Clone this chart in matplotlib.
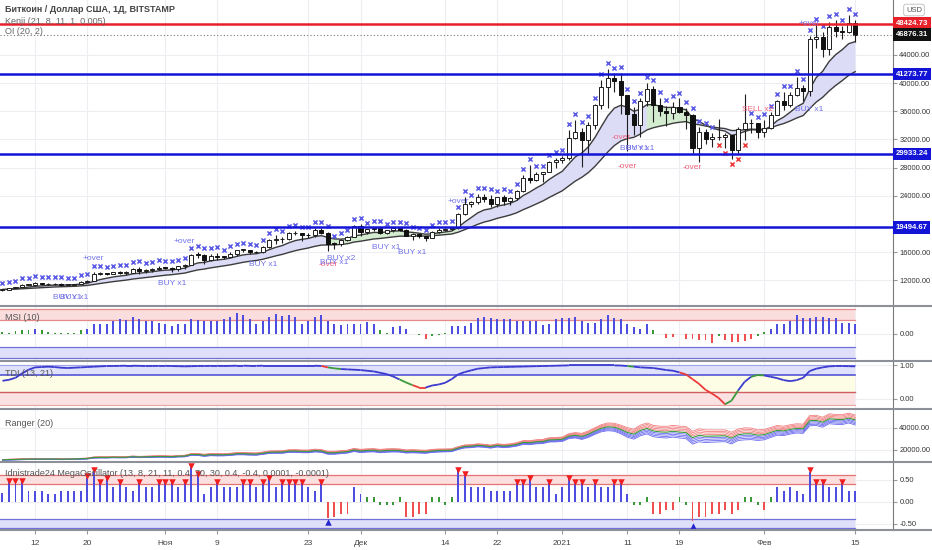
import numpy as np
import pandas as pd
import matplotlib
matplotlib.use("Agg")
import matplotlib.pyplot as plt
from matplotlib.lines import Line2D
from matplotlib.collections import LineCollection
from matplotlib.transforms import blended_transform_factory

plt.rcParams['font.family'] = ['Liberation Sans', 'DejaVu Sans']

# ---- data (BTC/USD Bitstamp, daily) ----
dates = pd.date_range('2020-10-07', '2021-02-15', freq='D')

close = [10670, 10925, 11060, 11300, 11375, 11540, 11425,
         11430, 11500, 11320, 11370, 11500, 11750, 11910,
         12820, 12970, 12930, 13120, 13030, 13070, 13640,
         13280, 13460, 13560, 13800, 13760, 13550, 14020,
         14150, 15590, 15580, 14830, 15480, 15330, 15300,
         15700, 16280, 16320, 16070, 15960, 16720, 17650,
         17800, 17820, 18680, 18720, 18420, 18370, 19160,
         18740, 17150, 17140, 17720, 18180, 19700, 18790,
         19220, 19450, 18700, 19150, 19360, 19170, 18320,
         18550, 18250, 18040, 18800, 19170, 19270, 19440,
         21380, 22840, 23140, 23870, 23480, 22750, 23830,
         23250, 23730, 24710, 26490, 26280, 27080, 27360,
         28840, 29000, 29400, 32200, 33000, 31970, 33990,
         36820, 39370, 40670, 40240, 38240, 35540, 34010,
         37390, 39150, 36830, 36070, 35800, 36630, 35890,
         35470, 30830, 33000, 32100, 32280, 32370, 32570,
         30430, 33470, 34300, 34300, 33110, 33540, 35510,
         37470, 36940, 38290, 39260, 38900, 46200, 46480,
         44840, 47970, 47400, 47190, 48580, 46876.31]

high = [10690, 10960, 11100, 11490, 11440, 11730, 11560,
        11550, 11620, 11540, 11400, 11520, 11820, 12020,
        13220, 13180, 13020, 13160, 13350, 13240, 13790,
        13860, 13620, 13680, 14080, 13900, 13820, 14070,
        14260, 15750, 15970, 15770, 15650, 15840, 15460,
        15960, 16340, 16480, 16320, 16170, 16880, 17850,
        18480, 18150, 18800, 18970, 18700, 18750, 19390,
        19480, 18910, 17450, 17880, 18330, 19860, 19920,
        19300, 19580, 19520, 19180, 19420, 19400, 19280,
        18640, 18580, 18270, 18940, 19410, 19350, 19560,
        21560, 23800, 23280, 24200, 24300, 24100, 23850,
        24120, 23800, 24790, 26870, 28390, 27400, 27390,
        28990, 29300, 29600, 33300, 34800, 33650, 34500,
        36950, 40400, 41950, 41350, 41400, 38300, 36600,
        37800, 40050, 39600, 37900, 36800, 37300, 37800,
        36400, 35600, 33800, 33500, 32900, 34900, 32900,
        32600, 33800, 38500, 34900, 34300, 34700, 35950,
        37650, 38700, 38700, 40900, 39650, 46700, 48200,
        47300, 48600, 48900, 48100, 49700, 49000]

low = [10530, 10560, 10830, 11050, 11280, 11200, 11300,
       11280, 11280, 11220, 11290, 11340, 11420, 11690,
       11900, 12690, 12720, 12900, 12900, 12790, 13060,
       12920, 12980, 13130, 13420, 13620, 13220, 13300,
       13530, 14090, 15200, 14350, 14720, 14810, 15070,
       15270, 15430, 15960, 15720, 15810, 15880, 16560,
       17200, 17330, 17750, 18350, 17620, 18000, 18070,
       18600, 16200, 16450, 16880, 17530, 18170, 18330,
       18500, 18940, 18580, 18520, 18870, 18920, 18220,
       17650, 17920, 17570, 18020, 18720, 19000, 19060,
       19290, 21230, 22350, 22760, 23100, 22350, 22400,
       22700, 22700, 23450, 24500, 25800, 26100, 25880,
       27330, 28000, 28700, 29000, 32000, 28130, 29900,
       33400, 36300, 36500, 38700, 35650, 30400, 32600,
       32400, 36700, 34400, 35350, 33850, 34850, 35700,
       33400, 30000, 28850, 31400, 30900, 31900, 30800,
       29250, 29850, 31900, 32900, 32200, 32300, 33400,
       35400, 36200, 36600, 38200, 37400, 38100, 45000,
       43750, 44000, 46500, 46300, 47100, 45800]

first_open = 10590

msi = [0.07, 0.01, 0.11, 0.14, 0.16, 0.20, 0.16,
       0.07, 0.03, 0.03, 0.03, 0.04, 0.14, 0.20,
       0.38, 0.38, 0.38, 0.51, 0.61, 0.58, 0.70,
       0.61, 0.51, 0.51, 0.45, 0.41, 0.31, 0.38,
       0.38, 0.61, 0.58, 0.54, 0.51, 0.51, 0.61,
       0.68, 0.85, 0.77, 0.61, 0.41, 0.51, 0.68,
       0.81, 0.72, 0.77, 0.68, 0.41, 0.51, 0.70,
       0.77, 0.51, 0.41, 0.34, 0.38, 0.41, 0.41,
       0.47, 0.41, 0.14, 0.04, 0.27, 0.31, 0.20,
       0.00, -0.04, -0.20, -0.11, -0.07, 0.04, 0.30,
       0.30, 0.30, 0.43, 0.65, 0.70, 0.64, 0.61,
       0.61, 0.61, 0.51, 0.51, 0.51, 0.51, 0.34,
       0.38, 0.61, 0.65, 0.65, 0.70, 0.51, 0.43,
       0.43, 0.61, 0.78, 0.65, 0.61, 0.38, 0.27,
       0.20, 0.38, 0.16, 0.00, -0.16, -0.14, -0.03,
       -0.20, -0.20, -0.24, -0.27, -0.38, -0.11, -0.27,
       -0.34, -0.34, -0.30, -0.20, -0.11, 0.07, 0.20,
       0.38, 0.38, 0.51, 0.78, 0.65, 0.65, 0.70,
       0.70, 0.65, 0.65, 0.43, 0.43, 0.38]

tdi = [0.53, 0.56, 0.62, 0.75, 0.86, 0.93, 0.94,
       0.95, 0.94, 0.92, 0.91, 0.92, 0.93, 0.94,
       0.95, 0.96, 0.97, 0.97, 0.975, 0.98, 0.98,
       0.975, 0.97, 0.97, 0.975, 0.975, 0.97, 0.965,
       0.96, 0.965, 0.97, 0.97, 0.975, 0.975, 0.97,
       0.975, 0.98, 0.98, 0.975, 0.975, 0.98, 0.98,
       0.98, 0.98, 0.98, 0.98, 0.98, 0.98, 0.98,
       0.97, 0.93, 0.90, 0.88, 0.87, 0.86, 0.85,
       0.83, 0.81, 0.77, 0.73, 0.66, 0.57, 0.48,
       0.40, 0.33, 0.33, 0.39, 0.42, 0.47, 0.58,
       0.72, 0.79, 0.84, 0.89, 0.91, 0.93, 0.935,
       0.94, 0.945, 0.95, 0.955, 0.96, 0.965, 0.97,
       0.975, 0.98, 0.985, 0.99, 0.99, 0.99, 0.99,
       0.99, 0.99, 0.99, 0.99, 0.985, 0.97, 0.95,
       0.93, 0.92, 0.91, 0.88, 0.85, 0.83, 0.78,
       0.72, 0.58, 0.44, 0.26, 0.15, 0.02, -0.17,
       -0.06, 0.24, 0.50, 0.65, 0.70, 0.69, 0.65,
       0.61, 0.55, 0.52, 0.55, 0.62, 0.82, 0.89,
       0.93, 0.96, 0.97, 0.97, 0.965, 0.96]

mega = [0.19, 0.45, 0.45, 0.45, 0.25, 0.25, 0.25,
        0.17, 0.17, 0.25, 0.25, 0.25, 0.25, 0.55,
        0.68, 0.43, 0.51, 0.34, 0.43, 0.34, 0.25,
        0.43, 0.34, 0.34, 0.43, 0.43, 0.43, 0.34,
        0.43, 0.78, 0.61, 0.17, 0.34, 0.43, 0.34,
        0.34, 0.34, 0.43, 0.43, 0.34, 0.43, 0.51,
        0.34, 0.43, 0.43, 0.43, 0.43, 0.34, 0.25,
        0.43, -0.36, -0.34, -0.27, -0.27, 0.34, 0.17,
        0.10, 0.10, -0.08, -0.08, -0.08, 0.10, -0.34,
        -0.34, -0.27, -0.27, 0.10, 0.10, -0.08, 0.10,
        0.70, 0.61, 0.34, 0.34, 0.34, 0.25, 0.25,
        0.25, 0.25, 0.43, 0.43, 0.51, 0.34, 0.34,
        0.43, 0.17, 0.34, 0.51, 0.43, 0.43, 0.34,
        0.43, 0.34, 0.34, 0.43, 0.43, 0.17, -0.08,
        -0.08, 0.10, -0.27, -0.27, -0.19, -0.19, 0.10,
        -0.08, -0.44, -0.34, -0.34, -0.27, -0.27, -0.19,
        -0.27, -0.19, 0.10, 0.10, -0.08, -0.19, 0.10,
        0.34, 0.25, 0.34, 0.25, 0.17, 0.68, 0.43,
        0.43, 0.34, 0.34, 0.43, 0.25, 0.25]

mega_buy_days = ['2020-11-26', '2021-01-21']
sar_red_days = ['2021-01-25', '2021-01-26', '2021-01-27', '2021-01-28', '2021-01-29']
kenji_green = [('2020-11-26', '2020-12-16'), ('2021-01-14', '2021-01-21')]
tdi_red = [('2020-11-25', '2020-11-26'), ('2020-12-09', '2020-12-11'), ('2021-01-19', '2021-01-26')]
tdi_green = [('2020-11-26', '2020-11-28'), ('2020-12-07', '2020-12-09'), ('2021-01-11', '2021-01-12'),
             ('2021-01-26', '2021-01-28'), ('2021-01-30', '2021-02-01')]

level_red = 48424.73
levels_blue = [41273.77, 29933.24, 19494.67]
last_price = 46876.31

tick_dates = ['2020-10-12', '2020-10-20', '2020-11-01', '2020-11-09', '2020-11-23', '2020-12-01',
              '2020-12-14', '2020-12-22', '2021-01-01', '2021-01-11', '2021-01-19', '2021-02-01', '2021-02-15']
tick_labels = ['12', '20', 'Ноя', '9', '23', 'Дек', '14', '22', '2021', '11', '19', 'Фев', '15']

signals = [
    ('BUY x1', '2020-10-17', 9610, 'b'), ('BUY x1', '2020-10-18', 9610, 'b'),
    ('+over', '2020-10-21', 15010, 'b'),
    ('BUY x1', '2020-11-02', 11460, 'b'),
    ('+over', '2020-11-04', 17560, 'b'),
    ('BUY x1', '2020-11-16', 14160, 'b'),
    ('-over', '2020-11-26', 14160, 'r'), ('BUY x1', '2020-11-27', 14580, 'b'),
    ('BUY x2', '2020-11-28', 15150, 'b'),
    ('BUY x1', '2020-12-05', 16710, 'b'),
    ('BUY x1', '2020-12-09', 15860, 'b'),
    ('+over', '2020-12-16', 23240, 'b'),
    ('-over', '2021-01-10', 32330, 'r'),
    ('BUY x1', '2021-01-12', 30630, 'b'), ('BUY x1', '2021-01-13', 30630, 'b'),
    ('-over', '2021-01-11', 28210, 'r'),
    ('-over', '2021-01-21', 28070, 'r'),
    ('SELL x2', '2021-01-31', 36170, 'r'),
    ('BUY x1', '2021-02-08', 36170, 'b'),
    ('+over', '2021-02-08', 48380, 'b'),
]

# ---- derived ----
n = len(dates)
assert len(close) == n and len(high) == n and len(low) == n
assert len(msi) == n and len(tdi) == n and len(mega) == n
x = np.arange(n)
c = np.array(close, float)
h = np.array(high, float)
l = np.array(low, float)
o = np.r_[first_open, c[:-1]]
pos = {d: i for i, d in enumerate(dates.strftime('%Y-%m-%d'))}

fast = pd.Series(c).ewm(span=8, adjust=False).mean().values
slow = pd.Series(c).ewm(span=21, adjust=False).mean().values

W, H = 932, 550
fig = plt.figure(figsize=(W / 100, H / 100), dpi=100)
fig.patch.set_facecolor('white')


def panel(top, bot):
    return [0, 1 - bot / H, 893 / W, (bot - top) / H]


ax = fig.add_axes(panel(0, 305))
ax_msi = fig.add_axes(panel(307, 360), sharex=ax)
ax_tdi = fig.add_axes(panel(362, 408), sharex=ax)
ax_rng = fig.add_axes(panel(410, 461), sharex=ax)
ax_mo = fig.add_axes(panel(463, 530), sharex=ax)
axes = [ax, ax_msi, ax_tdi, ax_rng, ax_mo]

tick_idx = [pos[d] for d in tick_dates]
for a in axes:
    a.set_xlim(-0.38, 136.8)
    for s in ['top', 'left', 'bottom']:
        a.spines[s].set_visible(False)
    a.spines['right'].set_color('#7a7a7a')
    a.yaxis.tick_right()
    a.tick_params(axis='y', length=3, color='#999999', labelsize=5.4, labelcolor='#333333', pad=1.5)
    a.tick_params(axis='x', length=0, labelbottom=False)
    a.set_xticks(tick_idx)
    a.grid(True, color='#eeeef2', lw=0.8, zorder=0)
    a.set_axisbelow(True)

# ---- main price panel ----
ax.set_ylim(8476, 51786)
ax.set_yticks([12000, 16000, 24000, 28000, 32000, 36000, 40000, 44000])
ax.yaxis.set_major_formatter(plt.FuncFormatter(lambda v, p: f'{v:.2f}'))

green_mask = np.zeros(n, bool)
for a0, a1 in kenji_green:
    green_mask[pos[a0]:pos[a1] + 1] = True
ax.fill_between(x, fast, slow, where=~green_mask | np.r_[False, ~green_mask[:-1]] | np.r_[~green_mask[1:], False],
                color='#dcdcf7', lw=0, zorder=1)
ax.fill_between(x, fast, slow, where=green_mask, color='#d3ebcf', lw=0, zorder=1)
ax.plot(x, fast, color='#3c3c3c', lw=1.0, zorder=2)
ax.plot(x, slow, color='#3c3c3c', lw=1.0, zorder=2)

up = c >= o
body_lo = np.minimum(o, c)
body_h = np.maximum(np.abs(c - o), 90)
ax.vlines(x, l, h, color='#1e1e1e', lw=0.8, zorder=3)
ax.bar(x[up], body_h[up], bottom=body_lo[up], width=0.62, color='white', edgecolor='#1e1e1e', lw=0.7, zorder=4)
ax.bar(x[~up], body_h[~up], bottom=body_lo[~up], width=0.62, color='#111111', edgecolor='#111111', lw=0.7, zorder=4)

red_idx = np.array([pos[d] for d in sar_red_days])
blue_sel = np.ones(n, bool)
blue_sel[red_idx] = False
ax.scatter(x[blue_sel], h[blue_sel] + 850, marker='x', s=9, lw=1.1, color='#5a5ae6', zorder=5)
ax.scatter(x[red_idx], l[red_idx] - 700, marker='x', s=9, lw=1.1, color='#ec3a3a', zorder=5)

ax.axhline(level_red, color='#e8202a', lw=1.8, zorder=6)
for lv in levels_blue:
    ax.axhline(lv, color='#1414d6', lw=1.8, zorder=6)
ax.axhline(last_price, color='#777777', lw=0.8, ls=(0, (1, 2)), zorder=6)

for txt, d, p, kind in signals:
    ax.text(pos[d], p, txt, fontsize=6, ha='center', va='center',
            color='#7272ea' if kind == 'b' else '#f0607a', zorder=7)

tr = blended_transform_factory(ax.transAxes, ax.transData)
for lv, fc in [(level_red, '#e8202a'), (last_price, '#111111')] + [(lv, '#1414d6') for lv in levels_blue]:
    ax.text(1.003, lv, f'{lv:.2f}', transform=tr, fontsize=5.6, color='white', fontweight='bold',
            ha='left', va='center', clip_on=False, zorder=10,
            bbox=dict(boxstyle='square,pad=0.35', fc=fc, ec='none'))

# ---- MSI ----
ax_msi.set_ylim(-1.085, 1.10)
ax_msi.fill_between([-0.38, n - 1], 0.55, 1.0, color='#fadddd', lw=0)
ax_msi.fill_between([-0.38, n - 1], -1.0, -0.55, color='#dfdff9', lw=0)
for yv, col in [(0.55, '#e58a8a'), (1.0, '#e58a8a'), (-0.55, '#7070dc'), (-1.0, '#7070dc')]:
    ax_msi.plot([-0.38, n - 1], [yv, yv], color=col, lw=0.9)
m = np.array(msi)
mcol = np.where(m >= 0.18, '#4d4de0', np.where(m <= -0.13, '#ef4f4f', '#3a9a3a'))
ax_msi.bar(x, m, width=0.3, color=mcol, zorder=3)
ax_msi.set_yticks([0])
ax_msi.set_yticklabels(['0.00'])

# ---- TDI ----
ax_tdi.set_ylim(-0.28, 1.09)
ax_tdi.fill_between([-0.38, n - 1], 0.7, 1.0, color='#dfe0fa', lw=0)
ax_tdi.fill_between([-0.38, n - 1], 0.2, 0.7, color='#fdfde6', lw=0)
ax_tdi.fill_between([-0.38, n - 1], -0.2, 0.2, color='#fbe1e1', lw=0)
for yv, col, lw in [(1.0, '#9ea2e8', 0.8), (0.7, '#5656d8', 1.2), (0.2, '#cf5f5f', 1.0), (-0.2, '#e8a6a6', 0.8)]:
    ax_tdi.plot([-0.38, n - 1], [yv, yv], color=col, lw=lw)
t = np.array(tdi)
seg_col = ['#3a3ad0'] * (n - 1)
for spans, col in [(tdi_green, '#3a9a3a'), (tdi_red, '#ec3a3a')]:
    for a0, a1 in spans:
        for k in range(pos[a0], pos[a1]):
            seg_col[k] = col
segs = [[(x[k], t[k]), (x[k + 1], t[k + 1])] for k in range(n - 1)]
ax_tdi.add_collection(LineCollection(segs, colors=seg_col, lw=1.3, zorder=3))
ax_tdi.set_yticks([0, 1])
ax_tdi.set_yticklabels(['0.00', '1.00'])

# ---- Ranger ----
ax_rng.set_ylim(9680, 55900)
mid = pd.Series(c)
step = 0.35 * pd.Series(h - l).rolling(20, min_periods=1).mean()
for k in range(4, 0, -1):
    ax_rng.plot(x, mid + k * step, color='#f28080', lw=0.6)
    ax_rng.plot(x, mid - k * step, color='#6a6af0', lw=0.6)
ax_rng.plot(x, mid, color='#3b9a3b', lw=0.8)
ax_rng.set_yticks([20000, 40000])
ax_rng.set_yticklabels(['20000.00', '40000.00'])

# ---- MegaOscillator ----
ax_mo.set_ylim(-0.64, 0.88)
ax_mo.fill_between([-0.38, n - 1], 0.4, 0.6, color='#fbdede', lw=0)
ax_mo.fill_between([-0.38, n - 1], -0.6, -0.4, color='#dfdff9', lw=0)
for yv, col in [(0.4, '#e57373'), (0.6, '#e57373'), (-0.4, '#7070dc'), (-0.6, '#7070dc')]:
    ax_mo.plot([-0.38, n - 1], [yv, yv], color=col, lw=0.9)
mo = np.array(mega)
mocol = np.where(mo >= 0.15, '#4d4de0', np.where(mo <= -0.15, '#ef4f4f', '#3a9a3a'))
ax_mo.bar(x, mo, width=0.3, color=mocol, zorder=3)
sel = mo >= 0.4
ax_mo.scatter(x[sel], mo[sel] + 0.03, marker='v', s=22, color='#f01e1e', lw=0, zorder=5)
bi = np.array([pos[d] for d in mega_buy_days])
ax_mo.scatter(x[bi], mo[bi] - 0.1, marker='^', s=22, color='#2424d0', lw=0, zorder=5)
ax_mo.set_yticks([-0.5, 0, 0.5])
ax_mo.set_yticklabels(['-0.50', '0.00', '0.50'])
ax_mo.tick_params(axis='x', labelbottom=True, length=3, color='#999999', labelsize=6, labelcolor='#444444', pad=4)
ax_mo.set_xticklabels(tick_labels)

# ---- separators, legends ----
for yp in [306, 361, 409, 462, 530]:
    fig.add_artist(Line2D([0, 1], [1 - yp / H, 1 - yp / H], color='#8e9099', lw=1.5))


def ftext(px, py, s, **kw):
    fig.text(px / W, 1 - py / H, s, va='center', ha='left', **kw)


ftext(5, 10, 'Биткоин / Доллар США, 1Д, BITSTAMP', fontsize=6.5, fontweight='bold', color='#444444')
ftext(5, 21, 'Kenji (21, 8, 11, 1, 0.005)', fontsize=6.5, color='#666666')
ftext(5, 32, 'OI (20, 2)', fontsize=6.5, color='#666666')
ftext(5, 318, 'MSI (10)', fontsize=6.5, color='#555555')
ftext(5, 373, 'TDI (13, 21)', fontsize=6.5, color='#555555')
ftext(5, 424, 'Ranger (20)', fontsize=6.5, color='#555555')
ftext(5, 474, 'Idnistrade24 MegaOscillator (13, 8, 21, 11, 0.4, 70, 30, 0.4, -0.4, 0.0001, -0.0001)',
      fontsize=6.5, color='#555555')
fig.text(914 / W, 1 - 10 / H, 'USD', fontsize=5.5, color='#555555', ha='center', va='center',
         bbox=dict(boxstyle='round,pad=0.3', fc='white', ec='#bbbbbb', lw=0.6))

fig.savefig('out.png', dpi=100)
